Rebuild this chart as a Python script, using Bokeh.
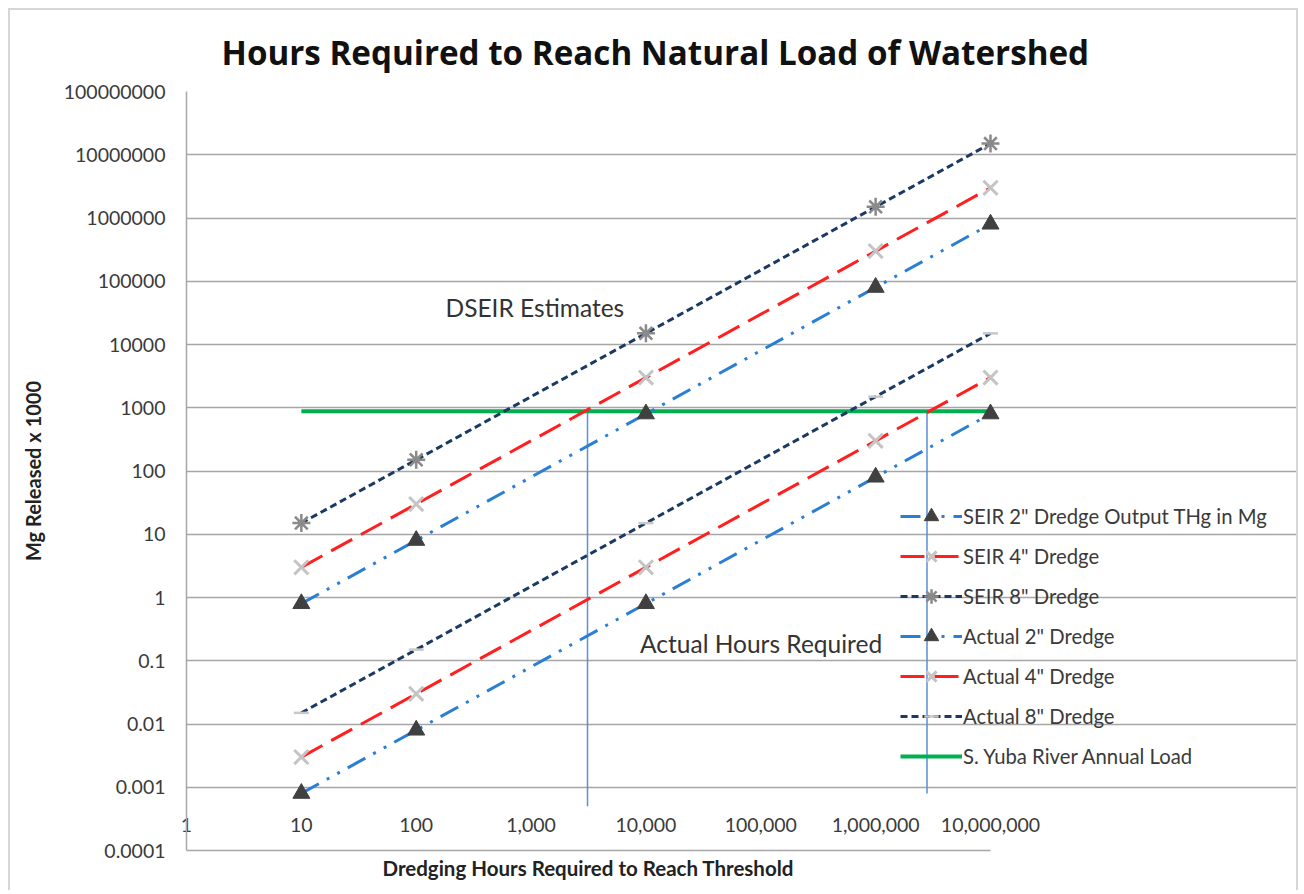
from bokeh.plotting import figure
from bokeh.models import (Range1d, FixedTicker, CustomJSTickFormatter, Legend, LegendItem,
                          Label, Title)
from bokeh.embed import file_html
from bokeh.resources import INLINE

# ---------------- data ----------------
hours = [10, 100, 10000, 1000000, 10000000]
seir_2in = [0.8, 8, 800, 80000, 800000]
seir_4in = [3, 30, 3000, 300000, 3000000]
seir_8in = [15, 150, 15000, 1500000, 15000000]
actual_2in = [0.0008, 0.008, 0.8, 80, 800]
actual_4in = [0.003, 0.03, 3, 300, 3000]
actual_8in = [0.015, 0.15, 15, 1500, 15000]

yuba_x = [10, 10000000]
yuba_load = [880, 880]

threshold1_x = [3100, 3100]
threshold1_y = [880, 0.0005]
threshold2_x = [2800000, 2800000]
threshold2_y = [880, 0.0008]

x_ticks = [1, 10, 100, 1000, 10000, 100000, 1000000, 10000000]
x_tick_labels = ["1", "10", "100", "1,000", "10,000", "100,000", "1,000,000", "10,000,000"]
y_ticks = [0.0001, 0.001, 0.01, 0.1, 1, 10, 100, 1000, 10000, 100000, 1000000, 10000000, 100000000]
y_tick_labels = ["0.0001", "0.001", "0.01", "0.1", "1", "10", "100", "1000", "10000",
                 "100000", "1000000", "10000000", "100000000"]

x_axis_bounds = (1, 10000000)
dseir_label_pos = (180, 38000)
actual_label_pos = (8900, 0.19)

# ---------------- layout ----------------
FONT = "Lato"
TXT = "#3a3a3a"
CANVAS_W, CANVAS_H = 1290, 882
LEFT, TOP, BOTTOM = 176, 78, 42
AXIS_PX = 804                      # pixels covered by the 7 decades of the x axis
frame_w = CANVAS_W - LEFT
x_end = 10 ** (7 * frame_w / AXIS_PX)   # frame extends right of the axis to hold the legend

p = figure(width=CANVAS_W, height=CANVAS_H, x_axis_type="log", y_axis_type="log",
           x_range=Range1d(1, x_end), y_range=Range1d(0.0001, 100000000),
           output_backend="svg", toolbar_location=None,
           min_border_left=LEFT, min_border_right=0, min_border_top=TOP, min_border_bottom=BOTTOM)
p.styles = {"margin-left": "8px", "margin-top": "8px",
            "border-left": "2px solid #d6d6d6", "border-top": "2px solid #d6d6d6",
            "border-right": "2px solid #d6d6d6"}
p.outline_line_color = None
p.background_fill_color = "white"
p.border_fill_color = "white"

# title
p.title.text = "Hours Required to Reach Natural Load of Watershed"
p.title.align = "left"
p.title.offset = 35
p.title.standoff = 34
p.title.text_font = "Open Sans"
p.title.text_font_style = "bold"
p.title.text_font_size = "33.2px"
p.title.text_color = "#111111"

# axes
def fmt(tvals, tlabels):
    return CustomJSTickFormatter(args=dict(tv=tvals, tl=tlabels), code="""
        for (let i = 0; i < tv.length; i++) {
            if (Math.abs(Math.log10(tv[i]) - Math.log10(tick)) < 1e-6) return tl[i];
        }
        return "";
    """)

xa = p.xaxis[0]
xa.ticker = FixedTicker(ticks=x_ticks, minor_ticks=[])
xa.formatter = fmt(x_ticks, x_tick_labels)
xa.bounds = x_axis_bounds
xa.major_tick_out = 0
xa.major_tick_in = 0
xa.minor_tick_out = 0
xa.minor_tick_in = 0
xa.major_label_standoff = -33
xa.axis_line_color = "#a6a6a6"
xa.axis_line_width = 1.5
xa.major_label_text_font = FONT
xa.major_label_text_font_size = "19.5px"
xa.major_label_text_color = TXT

# x-axis title (placed under the axis part of the frame)
x_title = Title(text="Dredging Hours Required to Reach Threshold", align="left", offset=196,
                text_font=FONT, text_font_style="bold", text_font_size="20.5px",
                text_color="#222222", standoff=6)
p.add_layout(x_title, "below")

ya = p.yaxis[0]
ya.ticker = FixedTicker(ticks=y_ticks, minor_ticks=[])
ya.formatter = fmt(y_ticks, y_tick_labels)
ya.major_tick_out = 0
ya.major_tick_in = 0
ya.minor_tick_out = 0
ya.minor_tick_in = 0
ya.major_label_standoff = 21
ya.axis_line_color = "#a6a6a6"
ya.axis_line_width = 1.5
ya.major_label_text_font = FONT
ya.major_label_text_font_size = "19.5px"
ya.major_label_text_color = TXT
ya.axis_label = "Mg Released x 1000"
ya.axis_label_text_font = FONT
ya.axis_label_text_font_style = "bold"
ya.axis_label_text_font_size = "20px"
ya.axis_label_text_color = "#222222"
ya.axis_label_standoff = 16

p.xgrid.grid_line_color = None
p.ygrid.grid_line_color = "#a6a6a6"
p.ygrid.grid_line_width = 1.5
p.ygrid.ticker = FixedTicker(ticks=y_ticks, minor_ticks=[])
p.ygrid.bounds = x_axis_bounds

# colours / styles
BLUE = "#2a7fd4"
RED = "#ff1f1f"
NAVY = "#1b3a63"
GREEN = "#00b050"
D2 = "20 9 3 9 3 9"
D4 = "24 10"
D8 = "7 4"

# threshold verticals
p.line(threshold1_x, threshold1_y, line_color="#5b8fd6", line_width=1.5)
p.line(threshold2_x, threshold2_y, line_color="#5b8fd6", line_width=1.5)

# yuba line
l_yuba = p.line(yuba_x, yuba_load, line_color=GREEN, line_width=4)

def series(yvals, color, dash, marker, mcolor, msize, mfill=True, mlw=2.5):
    l = p.line(hours, yvals, line_color=color, line_width=3, line_dash=dash)
    if mfill:
        s = p.scatter(hours, yvals, marker=marker, size=msize, fill_color=mcolor,
                      line_color=mcolor, line_width=1)
    else:
        s = p.scatter(hours, yvals, marker=marker, size=msize, line_color=mcolor,
                      line_width=mlw, fill_color=None)
    return [l, s]

r_s2 = series(seir_2in, BLUE, D2, "triangle", "#404040", 17)
r_s4 = series(seir_4in, RED, D4, "x", "#c4c4c4", 20, mfill=False, mlw=3)
r_s8 = series(seir_8in, NAVY, D8, "asterisk", "#8a8a8a", 18, mfill=False, mlw=2.5)
r_a2 = series(actual_2in, BLUE, D2, "triangle", "#404040", 17)
r_a4 = series(actual_4in, RED, D4, "x", "#c4c4c4", 20, mfill=False, mlw=3)
r_a8 = series(actual_8in, NAVY, D8, "dash", "#c8c8c8", 15, mfill=False, mlw=2.5)

# annotations
for txt, (lx, ly) in [("DSEIR Estimates", dseir_label_pos), ("Actual Hours Required", actual_label_pos)]:
    p.add_layout(Label(x=lx, y=ly, text=txt, text_font=FONT, text_font_size="24.5px",
                       text_color="#333333", text_baseline="middle", text_align="left"))

legend = Legend(items=[
    LegendItem(label='SEIR 2" Dredge Output THg in Mg', renderers=r_s2),
    LegendItem(label='SEIR 4" Dredge', renderers=r_s4),
    LegendItem(label='SEIR 8" Dredge', renderers=r_s8),
    LegendItem(label='Actual 2" Dredge', renderers=r_a2),
    LegendItem(label='Actual 4" Dredge', renderers=r_a4),
    LegendItem(label='Actual 8" Dredge', renderers=r_a8),
    LegendItem(label='S. Yuba River Annual Load', renderers=[l_yuba]),
], location=(714, 76))
legend.padding = 0
legend.margin = 0
legend.spacing = 4
legend.glyph_width = 62
legend.glyph_height = 36
legend.label_standoff = 1
legend.label_text_font = FONT
legend.label_text_font_size = "20.3px"
legend.label_text_color = TXT
legend.background_fill_alpha = 0
legend.border_line_color = None
p.add_layout(legend, "center")

open("out.html", "w").write(file_html(p, INLINE))
